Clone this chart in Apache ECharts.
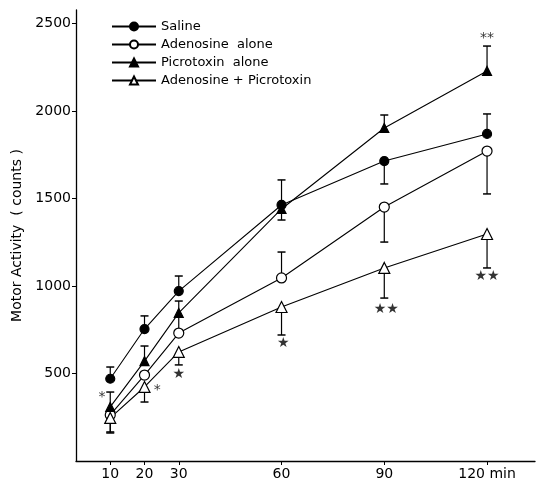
<!DOCTYPE html>
<html><head><meta charset="utf-8">
<script src="https://cdn.jsdelivr.net/npm/echarts@6/dist/echarts.min.js"></script>
<style>html,body{margin:0;padding:0;background:#fff}#c{width:538px;height:481px}</style>
</head><body><div id="c"></div>
<script>
const minutes = [10, 20, 30, 60, 90, 120];
const xTickLabels = [10, 20, 30, 60, 90, 120];
const yTickLabels = [500, 1000, 1500, 2000, 2500];

const saline     = [470, 754, 971, 1463, 1714, 1869];
const adenosine  = [263, 491, 731, 1046, 1451, 1771];
const picrotoxin = [309, 571, 846, 1440, 1903, 2229];
const adenoPicro = [246, 423, 623, 880, 1103, 1297];

// error bar end values (SEM whisker, one-sided as drawn)
const salineErr     = [537, 829, 1057, 1606, 1583, 1983];
const adenosineErr  = [160, null, 823, 1194, 1251, 1526];
const picrotoxinErr = [394, 657, 914, 1377, 1977, 2371];
const adenoPicroErr = [166, 337, 549, 720, 931, 1103];

// significance marks
const sigX    = [7.6, 23.7, 30, 60.5, 90.6, 120, 120];
const sigY    = [366, 406, 497, 674, 869, 1057, 2417];
const sigText = ['*', '*', '★', '★', '★★', '★★', '**'];

const names = ['Saline', 'Adenosine  alone', 'Picrotoxin  alone', 'Adenosine + Picrotoxin'];
const values = [saline, adenosine, picrotoxin, adenoPicro];
const errs = [salineErr, adenosineErr, picrotoxinErr, adenoPicroErr];
const symbols = ['circle', 'circle', 'triangle', 'triangle'];
const fills = ['#000', '#fff', '#000', '#fff'];
const sizes = [9, 10, 9, 11];

const font = 'DejaVu Sans';
const series = [];
values.forEach((v, i) => {
  series.push({
    name: names[i], type: 'line', z: 3,
    data: minutes.map((m, j) => [m, v[j]]),
    symbol: symbols[i], symbolSize: sizes[i],
    itemStyle: { color: fills[i], borderColor: '#000', borderWidth: 1.2 },
    lineStyle: { color: '#000', width: 1.1 },
    emphasis: { disabled: true }, animation: false
  });
  series.push({
    type: 'custom', z: 1, animation: false,
    data: minutes.map((m, j) => [m, v[j], errs[i][j]]).filter(d => d[2] != null),
    renderItem: function (params, api) {
      const p1 = api.coord([api.value(0), api.value(1)]);
      const p2 = api.coord([api.value(0), api.value(2)]);
      const w = 4;
      return { type: 'group', children: [
        { type: 'line', shape: { x1: p1[0], y1: p1[1], x2: p2[0], y2: p2[1] }, style: { stroke: '#000', lineWidth: 1.2 } },
        { type: 'line', shape: { x1: p2[0] - w, y1: p2[1], x2: p2[0] + w, y2: p2[1] }, style: { stroke: '#000', lineWidth: 1.5 } }
      ]};
    }
  });
});
series.push({
  type: 'scatter', symbolSize: 0, animation: false, z: 4,
  data: sigX.map((x, i) => ({ value: [x, sigY[i]], name: sigText[i] })),
  label: { show: true, position: 'inside', formatter: p => p.name, color: '#000', fontSize: 14, fontFamily: font }
});

const chart = echarts.init(document.getElementById('c'));
chart.setOption({
  backgroundColor: '#fff',
  animation: false,
  grid: { left: 76, right: 3, top: 10, bottom: 20, containLabel: false },
  legend: {
    data: names, orient: 'vertical', left: 106, top: 15,
    itemWidth: 44, itemHeight: 10, itemGap: 5,
    textStyle: { color: '#000', fontSize: 13, fontFamily: font },
    selectedMode: false
  },
  xAxis: {
    type: 'value', min: 0, max: 134,
    axisLine: { lineStyle: { color: '#000', width: 1.3 } },
    axisTick: { show: true, customValues: xTickLabels, length: 4, lineStyle: { color: '#000' } },
    axisLabel: { customValues: xTickLabels, color: '#000', fontSize: 14, fontFamily: font, margin: 6,
      formatter: v => v === 120 ? '120 min' : String(v) },
    splitLine: { show: false }
  },
  yAxis: {
    type: 'value', min: 0, max: 2577,
    name: 'Motor Activity  ( counts )', nameLocation: 'middle', nameGap: 42,
    nameTextStyle: { color: '#000', fontSize: 14, fontFamily: font },
    axisLine: { show: true, lineStyle: { color: '#000', width: 1.3 } },
    axisTick: { show: true, customValues: yTickLabels, length: 4, lineStyle: { color: '#000' } },
    axisLabel: { customValues: yTickLabels, color: '#000', fontSize: 14, fontFamily: font, margin: 5,
      formatter: v => String(v) },
    splitLine: { show: false }
  },
  series: series
});
</script>
</body></html>
